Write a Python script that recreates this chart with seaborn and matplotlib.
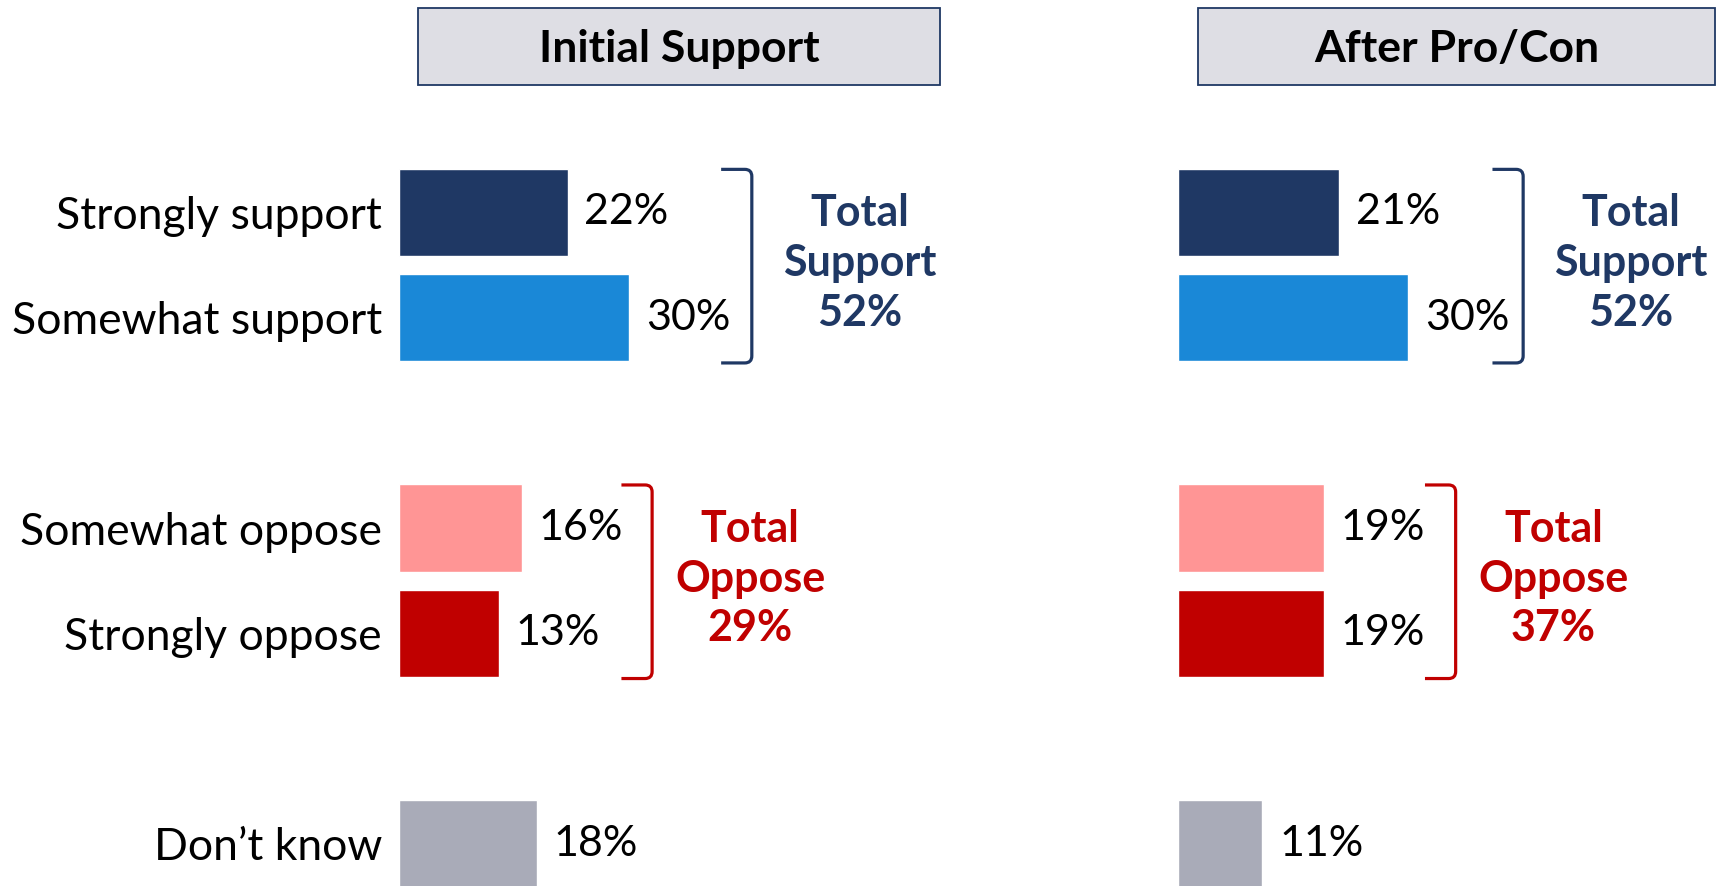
import matplotlib
matplotlib.use('Agg')
import matplotlib.pyplot as plt
import seaborn as sns
import pandas as pd
from matplotlib.patches import Rectangle, PathPatch
from matplotlib.path import Path

# ---- data ----
categories = ['Strongly support', 'Somewhat support', 'Somewhat oppose',
              'Strongly oppose', 'Don\u2019t know']
initial_values = [22, 30, 16, 13, 18]
after_values = [21, 30, 19, 19, 11]
panel_titles = ['Initial Support', 'After Pro/Con']
support_totals = [52, 52]
oppose_totals = [29, 37]

# ---- style ----
bar_colors = ['#1F3864', '#1A88D7', '#FF9595', '#C00000', '#A9ABB8']
navy = '#1F3864'
red = '#C00000'
header_fill = '#DEDEE4'

sns.set_theme(style='white')
plt.rcParams['font.family'] = ['Lato', 'DejaVu Sans']

W, H = 1727, 886
fig = plt.figure(figsize=(W / 100, H / 100), dpi=100)

order = [categories[0], categories[1], ' ', categories[2], categories[3], '  ', categories[4]]
palette = dict(zip(categories, bar_colors))

step = 105.2   # px between slots
y0 = 212.5     # px of first slot centre
ylim = ((H - y0) / step, -y0 / step)
ppp = 7.67     # px per percent

# panel layout: (left px, axes width px)
panels = [(399, 700), (1178, 549)]
# bracket vertical x (data units) for support / oppose groups
brackets = [(46.0, 33.0), (45.0, 36.2)]
arm = 4.0
text_offsets = (77.5, 70.5)   # points from bracket to totals text centre
header_boxes = [(418, 940), (1198, 1715)]
rx, ry = 7 / ppp, 7 / step     # bracket corner radius in data units


def bracket(ax, xv, top, bot, col):
    verts = [(xv - arm, top), (xv - rx, top), (xv, top), (xv, top + ry),
             (xv, bot - ry), (xv, bot), (xv - rx, bot), (xv - arm, bot)]
    codes = [Path.MOVETO, Path.LINETO, Path.CURVE3, Path.CURVE3,
             Path.LINETO, Path.CURVE3, Path.CURVE3, Path.LINETO]
    ax.add_patch(PathPatch(Path(verts, codes), fill=False, edgecolor=col, lw=2.3,
                           capstyle='butt', joinstyle='round', clip_on=False))


for p, (vals, title) in enumerate(zip([initial_values, after_values], panel_titles)):
    left, wpx = panels[p]
    ax = fig.add_axes([left / W, 0, wpx / W, 1])
    df = pd.DataFrame({'category': categories, 'value': vals})
    sns.barplot(data=df, x='value', y='category', order=order, hue='category',
                palette=palette, width=0.83, legend=False, ax=ax, saturation=1)
    ax.set_xlim(0, wpx / ppp)
    ax.set_ylim(*ylim)
    for s in ax.spines.values():
        s.set_visible(False)
    ax.set_xticks([])
    ax.set_xlabel('')
    ax.set_ylabel('')
    ax.set_yticks(range(len(order)))
    if p == 0:
        ax.set_yticklabels(order, fontsize=32, color='black')
    else:
        ax.set_yticklabels([''] * len(order))
    ax.tick_params(axis='y', length=0, pad=12.2)
    ax.set_facecolor('none')

    # value labels
    for cat, v in zip(categories, vals):
        yi = order.index(cat)
        ax.annotate(f'{v}%', xy=(v, yi), xytext=(12.0, 0), textcoords='offset points',
                    ha='left', va='center', fontsize=31, color='black',
                    annotation_clip=False)

    # brackets + totals
    groups = [(0, 1, navy, f'Total\nSupport\n{support_totals[p]}%'),
              (3, 4, red, f'Total\nOppose\n{oppose_totals[p]}%')]
    for g, (a, b, col, txt) in enumerate(groups):
        xv = brackets[p][g]
        bracket(ax, xv, a - 0.41, b + 0.43, col)
        ax.annotate(txt, xy=(xv, (a + b) / 2 - 0.02), xytext=(text_offsets[g], 0),
                    textcoords='offset points',
                    ha='center', va='center', fontsize=31, fontweight='bold', color=col,
                    linespacing=1.3, multialignment='center', annotation_clip=False)

    # header box
    x1, x2 = header_boxes[p]
    fig.add_artist(Rectangle((x1 / W, 1 - 85 / H), (x2 - x1) / W, 77 / H,
                             transform=fig.transFigure, facecolor=header_fill,
                             edgecolor=navy, lw=1.3))
    fig.text((x1 + x2) / 2 / W, 1 - 62 / H, title, ha='center', va='baseline',
             fontsize=32, fontweight='bold', color='black')

fig.savefig('out.png', dpi=100, facecolor='white')
